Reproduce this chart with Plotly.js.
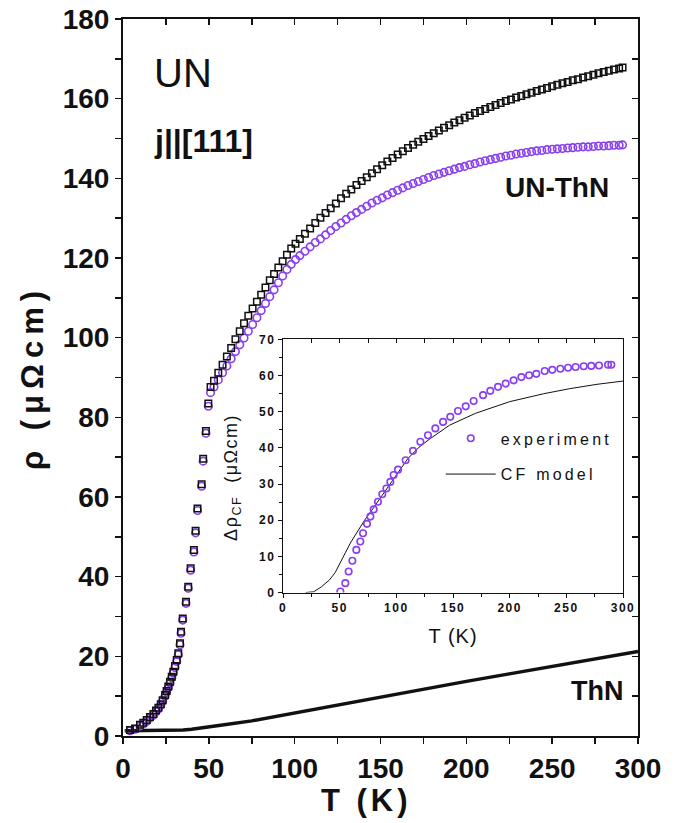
<!DOCTYPE html>
<html>
<head>
<meta charset="utf-8">
<script src="https://cdn.plot.ly/plotly-3.0.1.min.js"></script>
<style>
  html, body { margin: 0; padding: 0; background: #fff; }
  #chart { width: 682px; height: 823px; }
  /* spaced-out lettering used by the axis titles and the inset key */
  .legendtext { letter-spacing: 3.2px; }
  .ytitle { letter-spacing: 6px; }
  .x3title { letter-spacing: 1px; }
  g.annotation[data-index="4"] text { letter-spacing: 4px; }
  g.annotation[data-index="5"] text { letter-spacing: 1.5px; }
  .x3tick text, .y3tick text { letter-spacing: 1.5px; }
</style>
</head>
<body>
<div id="chart"></div>
<script>
// Resistivity of UN (j || [111]), the ThN reference and their difference
const tUN = [4.1,7.0,9.9,11.8,13.8,15.7,17.7,19.2,20.6,22.0,23.1,24.5,25.4,26.4,27.4,28.4,29.3,30.3,31.3,32.2,33.2,33.8,34.8,36.7,38.0,39.4,41.3,42.3,43.4,45.8,46.7,48.3,49.7,
  51,53,55.5,58,60.5,63,65.5,68,70.5,73,75.5,78,80.5,83,85.5,88,90.5,93,95.5,98,100.5,103,106,109,112,115,118,121,124,127,130,133,136,139,142,145,148,151,154,157,160,163,166,169,172,175,178,181,184,187,190,193,196,199,202,205,208,211,214,217,220,223,226,229,232,235,238,241,244,247,250,253,256,259,262,265,268,271,274,277,280,283,286,289,291];

const rhoUN = [1.5,1.9,2.8,3.3,4.0,4.8,5.5,6.4,7.1,8.0,9.0,10.3,11.3,12.4,13.6,14.9,16.1,17.6,19.1,20.8,23.3,26.2,29.5,33.7,37.5,42.1,46.7,51.5,57.1,63.2,69.6,76.6,83.5,
  87.6,89.2,91.2,93.2,95.3,97.4,99.6,101.6,103.6,105.5,107.3,109.0,110.8,112.6,114.4,116.0,117.6,119.2,120.8,122.4,123.6,124.8,126.1,127.4,128.8,130.1,131.3,132.5,133.7,135.0,136.1,137.2,138.3,139.3,140.3,141.3,142.3,143.3,144.2,145.1,146.0,146.8,147.6,148.4,149.2,149.9,150.6,151.3,152.0,152.7,153.3,154.0,154.6,155.2,155.8,156.4,156.9,157.4,157.9,158.4,158.9,159.4,159.8,160.3,160.7,161.1,161.5,161.9,162.3,162.7,163.1,163.5,163.9,164.2,164.6,164.9,165.3,165.6,166.0,166.4,166.7,167.0,167.3,167.6,167.8];

const rhoDiff = [1.3,1.7,2.5,3.0,3.7,4.5,5.2,6.1,6.8,7.7,8.7,10.0,11.0,12.1,13.3,14.6,15.8,17.2,18.7,20.4,22.9,25.8,29.1,33.3,37.1,41.6,46.2,51.0,56.6,62.7,69.0,76.0,82.8,
  86.2,87.6,89.4,91.2,92.9,94.7,96.5,98.2,99.9,101.6,103.3,105.0,106.8,108.6,110.3,112.0,113.8,115.5,117.1,118.4,119.6,120.6,121.7,122.8,123.9,124.8,125.8,126.9,127.9,128.8,129.7,130.6,131.4,132.2,133.0,133.8,134.5,135.1,135.8,136.4,137.0,137.6,138.2,138.7,139.2,139.7,140.2,140.7,141.1,141.5,141.9,142.3,142.7,143.0,143.4,143.7,144.1,144.4,144.7,145.0,145.3,145.6,145.8,146.1,146.3,146.5,146.7,146.9,147.0,147.2,147.3,147.4,147.5,147.6,147.7,147.8,147.9,147.9,148.0,148.1,148.1,148.2,148.3,148.3,148.4];

const tThN   = [1,10,20,30,35,40,50,60,75,100,125,150,175,200,225,250,275,300];
const rhoThN = [1.3,1.3,1.3,1.3,1.5,1.7,2.2,2.9,3.8,5.8,7.9,9.9,11.8,13.7,15.6,17.4,19.3,21.2];

// Inset: crystal-field contribution
const tExp = [50.6,55,57.9,61.2,64.7,68.2,70.6,74.1,77.1,80,83.8,87.6,91.2,94.7,97.6,101.5,108.2,114.7,121.2,127.9,134.4,141.2,147.6,154.4,161.2,168.2,176.5,182.9,189.7,196.5,203.5,210.3,217.1,223.5,230.9,237.6,244.7,251.5,258.2,265.3,272,278.8,286.8,289.7];
const dRhoExp = [0.3,2.6,5.8,8.8,11.8,14.1,16.4,19.0,21.0,23.0,25.1,27.2,28.8,30.6,32.5,34.0,36.6,39.2,41.7,43.5,45.4,47.2,48.6,50.2,51.5,53.0,54.6,55.8,56.9,57.8,58.7,59.6,60.1,60.5,61.3,61.6,61.9,62.2,62.4,62.6,62.7,62.8,63.0,63.0];
const tCF = [20,27,34,41,46,50,55,60,65,72,80,90,100,110,120,130,147,170,200,230,253,277,300];
const dRhoCF = [0,0.2,1.6,3.5,5.5,7.8,11.0,14.0,16.6,20.0,23.5,28.0,32.8,37.0,40.2,42.6,46.3,49.6,52.8,55.0,56.4,57.6,58.5];

const FONT = 'Liberation Sans, Arial, sans-serif';
const INK = '#111111';
const VIOLET = '#8a3ef0';

const traces = [
  { x: tThN, y: rhoThN, type: 'scatter', mode: 'lines', name: 'ThN',
    line: { color: INK, width: 3.4 }, showlegend: false, hoverinfo: 'skip' },
  { x: tUN, y: rhoDiff, type: 'scatter', mode: 'markers', name: 'UN-ThN',
    marker: { symbol: 'circle-open', size: 7.5, color: VIOLET, line: { width: 1.6, color: VIOLET } },
    showlegend: false },
  { x: tUN, y: rhoUN, type: 'scatter', mode: 'markers', name: 'UN',
    marker: { symbol: 'square-open', size: 6.5, color: INK, line: { width: 1.5, color: INK } },
    showlegend: false },
  // carrier for the inward tick marks on the top and right frame
  { x: [], y: [], type: 'scatter', xaxis: 'x2', yaxis: 'y2', showlegend: false, hoverinfo: 'skip' },
  // inset
  { x: tCF, y: dRhoCF, type: 'scatter', mode: 'lines', name: 'CF model', xaxis: 'x3', yaxis: 'y3',
    line: { color: INK, width: 1 }, legendgroup: 'model', legendrank: 2 },
  { x: tExp, y: dRhoExp, type: 'scatter', mode: 'markers', name: 'experiment', xaxis: 'x3', yaxis: 'y3',
    marker: { symbol: 'circle-open', size: 6.5, color: VIOLET, line: { width: 1.6, color: VIOLET } },
    legendgroup: 'exp', legendrank: 1 },
  { x: [], y: [], type: 'scatter', xaxis: 'x4', yaxis: 'y3', showlegend: false, hoverinfo: 'skip' }
];

const bigTick = { family: FONT, size: 28, color: INK, weight: 700 };
const smallTick = { family: FONT, size: 12, color: INK, weight: 700 };

const layout = {
  width: 682, height: 823,
  margin: { l: 123, r: 44, t: 19, b: 87 },
  paper_bgcolor: '#fff', plot_bgcolor: '#fff',
  showlegend: true,
  xaxis: {
    range: [0, 300], dtick: 50, tick0: 0, ticks: 'outside', ticklen: 6, tickwidth: 1.5, tickcolor: INK,
    minor: { dtick: 25, ticks: 'outside', ticklen: 6, tickwidth: 1.5, tickcolor: INK, showgrid: false },
    showline: true, linecolor: INK, linewidth: 2, mirror: true, showgrid: false, zeroline: false,
    tickfont: bigTick
  },
  yaxis: {
    range: [0, 180], dtick: 20, tick0: 0, ticks: 'outside', ticklen: 6, tickwidth: 1.5, tickcolor: INK,
    minor: { dtick: 10, ticks: 'outside', ticklen: 6, tickwidth: 1.5, tickcolor: INK, showgrid: false },
    showline: true, linecolor: INK, linewidth: 2, mirror: true, showgrid: false, zeroline: false,
    tickfont: bigTick,
    title: { text: 'ρ (μΩcm)', font: { family: FONT, size: 31, color: INK, weight: 700 }, standoff: 10 }
  },
  xaxis2: {
    overlaying: 'x', side: 'top', anchor: 'y2', range: [0, 300], dtick: 25, ticks: 'inside', ticklen: 6,
    tickwidth: 1.5, tickcolor: INK, showticklabels: false, showline: false, showgrid: false, zeroline: false
  },
  yaxis2: {
    overlaying: 'y', side: 'right', anchor: 'x2', range: [0, 180], dtick: 10, ticks: 'inside', ticklen: 6,
    tickwidth: 1.5, tickcolor: INK, showticklabels: false, showline: false, showgrid: false, zeroline: false
  },
  xaxis3: {
    domain: [0.3107, 0.9709], anchor: 'y3', range: [0, 300], dtick: 50, ticks: 'outside', ticklen: 4,
    tickwidth: 1, tickcolor: INK,
    minor: { dtick: 25, ticks: 'outside', ticklen: 3, tickwidth: 1, tickcolor: INK, showgrid: false },
    showline: true, linecolor: INK, linewidth: 1.2, mirror: true, showgrid: false, zeroline: false,
    tickfont: smallTick,
    title: { text: 'T (K)', font: { family: FONT, size: 20, color: INK }, standoff: 14 }
  },
  yaxis3: {
    domain: [0.2001, 0.553], anchor: 'x3', range: [0, 70], dtick: 10, ticks: 'outside', ticklen: 4,
    tickwidth: 1, tickcolor: INK,
    minor: { dtick: 5, ticks: 'outside', ticklen: 3, tickwidth: 1, tickcolor: INK, showgrid: false },
    showline: true, linecolor: INK, linewidth: 1.2, mirror: true, showgrid: false, zeroline: false,
    tickfont: smallTick
  },
  xaxis4: {
    overlaying: 'x3', side: 'top', anchor: 'y3', range: [0, 300], dtick: 25, ticks: 'inside', ticklen: 4,
    tickwidth: 1, tickcolor: INK, showticklabels: false, showline: false, showgrid: false, zeroline: false
  },
  legend: {
    x: 0.617, y: 0.39, xanchor: 'left', yanchor: 'middle', bgcolor: 'rgba(0,0,0,0)',
    traceorder: 'grouped', tracegroupgap: 12,
    font: { family: FONT, size: 16, color: INK }, itemwidth: 50
  },
  annotations: [
    { text: 'UN', x: 17, y: 166.5, xref: 'x', yref: 'y', xanchor: 'left', yanchor: 'middle', showarrow: false,
      font: { family: FONT, size: 40, color: INK } },
    { text: 'j||[111]', x: 17, y: 149.3, xref: 'x', yref: 'y', xanchor: 'left', yanchor: 'middle', showarrow: false,
      font: { family: FONT, size: 32, color: INK, weight: 700 } },
    { text: 'UN-ThN', x: 253, y: 137.8, xref: 'x', yref: 'y', xanchor: 'center', yanchor: 'middle', showarrow: false,
      font: { family: FONT, size: 28, color: INK, weight: 700 } },
    { text: 'ThN', x: 276, y: 11.2, xref: 'x', yref: 'y', xanchor: 'center', yanchor: 'middle', showarrow: false,
      font: { family: FONT, size: 27, color: INK, weight: 700 } },
    // main abscissa title
    { text: 'T (K)', x: 0.472, y: -0.0893, xref: 'paper', yref: 'paper', xanchor: 'center', yanchor: 'middle',
      showarrow: false, font: { family: FONT, size: 31, color: INK, weight: 700 } },
    // inset ordinate title
    { text: 'Δρ<sub>CF</sub>  (μΩcm)', x: 0.2136, y: 0.36, xref: 'paper', yref: 'paper', xanchor: 'center',
      yanchor: 'middle', textangle: -90, showarrow: false, font: { family: FONT, size: 18, color: INK } }
  ]
};

Plotly.newPlot('chart', traces, layout, { staticPlot: true, displayModeBar: false });
</script>
</body>
</html>
